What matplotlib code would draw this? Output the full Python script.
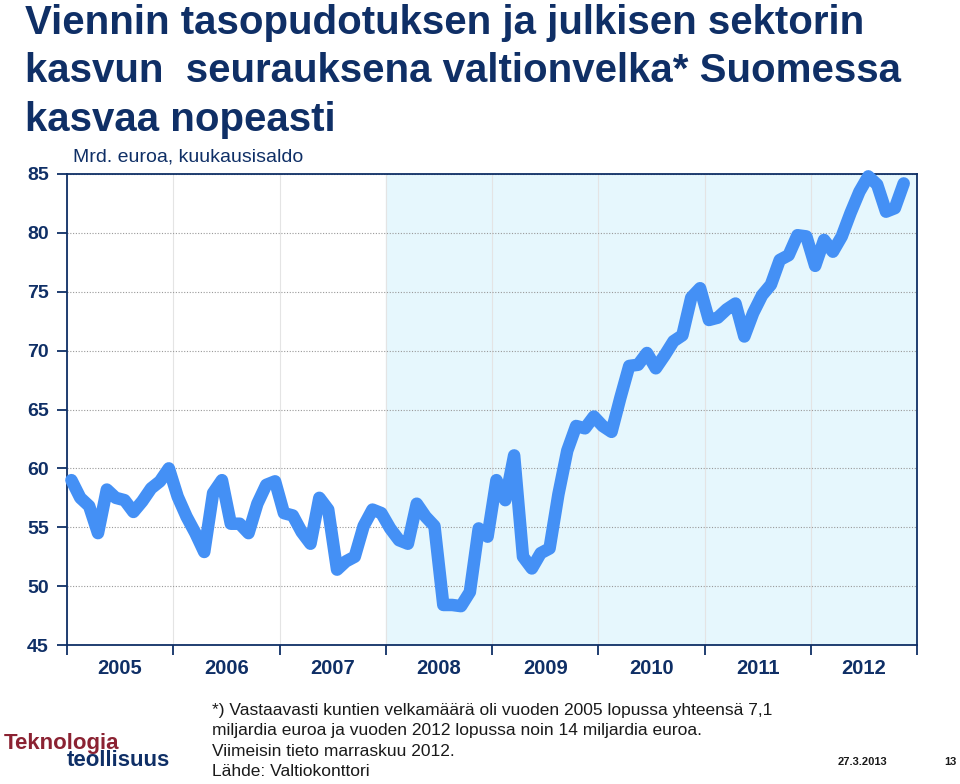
import numpy as np
import matplotlib.pyplot as plt

plt.rcParams['font.family'] = ['Liberation Sans', 'DejaVu Sans']

# Valtionvelka, mrd. euroa, kuukausisaldo tammi 2005 - marras 2012
debt = [
    59.0, 57.5, 56.8, 54.5, 58.2, 57.5, 57.3, 56.3, 57.2, 58.3, 58.9, 60.0,   # 2005
    57.6, 55.9, 54.5, 52.9, 57.9, 59.0, 55.3, 55.3, 54.5, 57.0, 58.6, 58.9,   # 2006
    56.2, 56.0, 54.6, 53.6, 57.5, 56.5, 51.4, 52.1, 52.5, 55.1, 56.5, 56.2,   # 2007
    54.9, 53.9, 53.6, 57.0, 55.9, 55.1, 48.4, 48.4, 48.3, 49.5, 54.9, 54.2,   # 2008
    59.0, 57.3, 61.1, 52.5, 51.5, 52.8, 53.2, 57.8, 61.5, 63.6, 63.4, 64.4,   # 2009
    63.6, 63.1, 66.0, 68.7, 68.8, 69.8, 68.5, 69.6, 70.8, 71.3, 74.5, 75.3,   # 2010
    72.6, 72.8, 73.5, 74.0, 71.2, 73.2, 74.7, 75.6, 77.7, 78.1, 79.8, 79.7,   # 2011
    77.2, 79.4, 78.4, 79.7, 81.7, 83.5, 84.8, 84.1, 81.8, 82.1, 84.2,         # 2012
]
years = ['2005', '2006', '2007', '2008', '2009', '2010', '2011', '2012']
shade_from = '2008'

navy = '#0f2f66'
line_blue = '#4490f5'

fig = plt.figure(figsize=(9.6, 7.84), dpi=100)
ax = fig.add_axes([67 / 960, 139 / 784, 850 / 960, 471 / 784])

months = np.arange(len(debt)) + 0.5
n_months = 12 * len(years)

# shaded period
ax.axvspan(12 * years.index(shade_from), n_months, color='#e6f7fd', zorder=0)

ax.plot(months, debt, color=line_blue, lw=9, solid_joinstyle='round',
        solid_capstyle='round', zorder=3, clip_on=False)

ax.set_xlim(0, n_months)
ax.set_ylim(45, 85)
ax.set_yticks(np.arange(45, 86, 5))
ax.set_xticks(np.arange(0, n_months + 1, 12))
ax.set_xticklabels([])
ax.set_xticks(np.arange(6, n_months, 12), minor=True)
ax.set_xticklabels(years, minor=True)

ax.tick_params(axis='x', which='major', direction='out', length=7, width=1.3, color=navy)
ax.tick_params(axis='x', which='minor', length=0, pad=10, labelsize=14.5, labelcolor=navy)
ax.tick_params(axis='y', direction='out', length=7, width=1.3, color=navy,
               labelsize=14, labelcolor=navy, pad=6)
for lab in ax.get_xticklabels(minor=True) + ax.get_yticklabels():
    lab.set_fontweight('bold')

ax.grid(axis='y', color='#999999', ls=(0, (1, 1.5)), lw=0.8)
ax.grid(axis='x', which='major', color='#e4e4e4', lw=0.8)
ax.set_axisbelow(True)
for sp in ax.spines.values():
    sp.set_color(navy)
    sp.set_linewidth(1.3)

# title
fig.text(25 / 960, 1 - 4 / 784,
         'Viennin tasopudotuksen ja julkisen sektorin\nkasvun  seurauksena valtionvelka* Suomessa\nkasvaa nopeasti',
         ha='left', va='top', fontsize=29, fontweight='bold', color=navy,
         linespacing=1.35)
fig.text(73 / 960, 1 - 157 / 784, 'Mrd. euroa, kuukausisaldo',
         ha='left', va='center', fontsize=14, color=navy)

# footnote
fig.text(212 / 960, 1 - 703 / 784,
         '*) Vastaavasti kuntien velkamäärä oli vuoden 2005 lopussa yhteensä 7,1\n'
         'miljardia euroa ja vuoden 2012 lopussa noin 14 miljardia euroa.\n'
         'Viimeisin tieto marraskuu 2012.\n'
         'Lähde: Valtiokonttori',
         ha='left', va='top', fontsize=12.5, color='#1a1a1a', linespacing=1.45)

# logo text
fig.text(4 / 960, 1 - 743 / 784, 'Teknologia', ha='left', va='center',
         fontsize=16, fontweight='bold', color='#8b2232')
fig.text(67 / 960, 1 - 760 / 784, 'teollisuus', ha='left', va='center',
         fontsize=16, fontweight='bold', color=navy)

fig.text(838 / 960, 1 - 762 / 784, '27.3.2013', ha='left', va='center',
         fontsize=8, fontweight='bold', color='#1a1a1a')
fig.text(944 / 960, 1 - 762 / 784, '13', ha='left', va='center',
         fontsize=8, fontweight='bold', color='#1a1a1a')

fig.savefig('out.png', dpi=100)
